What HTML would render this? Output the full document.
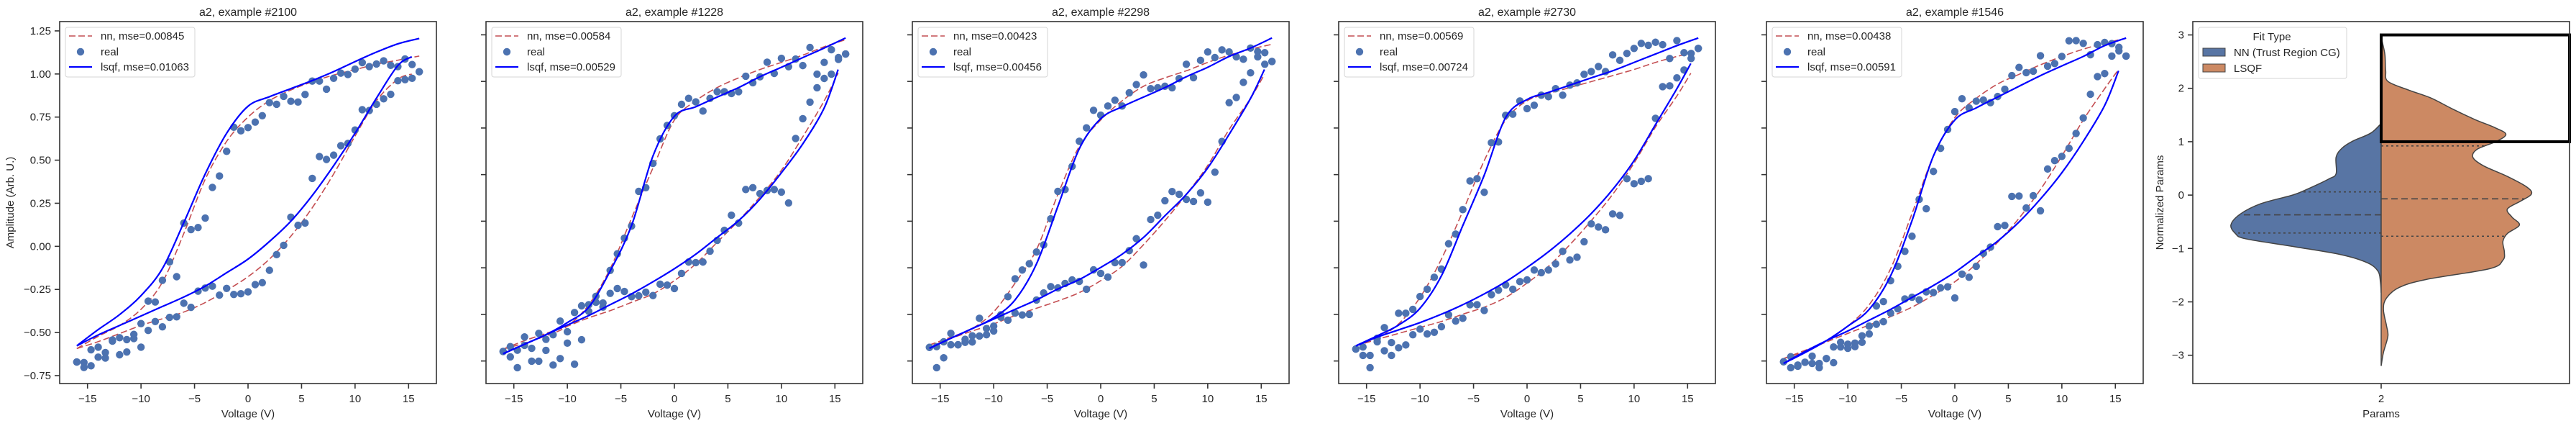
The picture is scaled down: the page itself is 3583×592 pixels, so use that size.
<!DOCTYPE html>
<html><head><meta charset="utf-8">
<style>
html,body{margin:0;padding:0;background:#fff;}
svg{display:block;font-family:"Liberation Sans",Arial,sans-serif;}
</style></head>
<body>
<svg id="fig" xmlns="http://www.w3.org/2000/svg" width="3583" height="592" viewBox="0 0 3583 592"></svg>
<script>
// ---------- data ----------
const voltGrid = [-16,-15.33,-14.67,-14,-13.33,-12.67,-12,-11.33,-10.67,-10,-9.33,-8.67,-8,-7.33,-6.67,-6,-5.33,-4.67,-4,-3.33,-2.67,-2,-1.33,-0.67,0,0.67,1.33,2,2.67,3.33,4,4.67,5.33,6,6.67,7.33,8,8.67,9.33,10,10.67,11.33,12,12.67,13.33,14,14.67,15.33,16];
const lineVUpper = [-16,-14,-12,-10,-8,-6,-4,-2,0,2,4,6,8,10,12,14,16];
const lineVLower = [-16,-14,-12,-10,-8,-6,-4,-2,0,2,4,6,8,10,12,14,15.3];
const xTicks = [-15,-10,-5,0,5,10,15];
const titles = ["a2, example #2100","a2, example #1228","a2, example #2298","a2, example #2730","a2, example #1546"];
const nnMse = ["0.00845","0.00584","0.00423","0.00569","0.00438"];
const lsqfMse = ["0.01063","0.00529","0.00456","0.00724","0.00591"];
const p1YTicks = [-0.75,-0.5,-0.25,0,0.25,0.5,0.75,1.0,1.25];
const p1YLabels = ["−0.75","−0.50","−0.25","0.00","0.25","0.50","0.75","1.00","1.25"];
const otherYTicks = [-0.5,-0.25,0,0.25,0.5,0.75,1.0,1.25];

const p1Upper = [-0.671,-0.674,-0.600,-0.585,-0.616,-0.543,-0.530,-0.541,-0.511,-0.448,-0.318,-0.323,-0.197,-0.090,-0.176,0.135,0.097,0.109,0.164,0.342,0.408,0.551,0.691,0.670,0.689,0.721,0.758,0.834,0.824,0.870,0.842,0.837,0.881,0.959,0.959,0.912,0.975,1.005,0.997,1.028,1.066,1.043,1.058,1.076,1.050,1.043,1.087,1.055,1.013];
const p1Lower = [-0.671,-0.703,-0.693,-0.643,-0.648,-0.550,-0.629,-0.613,-0.535,-0.585,-0.488,-0.436,-0.467,-0.412,-0.409,-0.330,-0.354,-0.260,-0.242,-0.231,-0.283,-0.244,-0.279,-0.275,-0.264,-0.222,-0.211,-0.139,-0.048,0.006,0.169,0.122,0.135,0.394,0.521,0.504,0.529,0.584,0.597,0.675,0.793,0.788,0.824,0.856,0.882,0.961,0.967,0.975,1.013];
const p1LsqfUp = [-0.577,-0.483,-0.396,-0.286,-0.129,0.138,0.420,0.656,0.813,0.868,0.915,0.962,1.014,1.072,1.127,1.175,1.206];
const p1LsqfLo = [-0.577,-0.514,-0.459,-0.404,-0.349,-0.294,-0.231,-0.153,-0.074,0.028,0.146,0.295,0.468,0.656,0.860,1.049,1.10];
const p1NnUp = [-0.593,-0.522,-0.459,-0.365,-0.208,0.075,0.389,0.609,0.750,0.845,0.907,0.955,0.994,1.025,1.057,1.080,1.104];
const p1NnLo = [-0.593,-0.553,-0.506,-0.459,-0.420,-0.381,-0.326,-0.255,-0.176,-0.074,0.059,0.224,0.420,0.640,0.845,0.970,1.00];

const p2Upper = [-0.449,-0.423,-0.442,-0.371,-0.432,-0.352,-0.384,-0.359,-0.286,-0.343,-0.240,-0.204,-0.198,-0.153,-0.189,-0.014,0.075,0.159,0.224,0.410,0.430,0.560,0.692,0.764,0.816,0.877,0.909,0.890,0.841,0.909,0.945,0.945,0.935,0.945,1.028,0.993,1.025,1.103,1.043,1.124,1.079,1.120,1.085,1.182,1.039,1.102,1.170,1.128,1.147];
const p2Lower = [-0.449,-0.478,-0.536,-0.416,-0.501,-0.501,-0.443,-0.522,-0.487,-0.404,-0.517,-0.386,-0.234,-0.185,-0.211,-0.137,-0.111,-0.127,-0.155,-0.150,-0.131,-0.149,-0.088,-0.093,-0.111,-0.030,0.031,0.028,0.031,0.089,0.147,0.201,0.282,0.240,0.420,0.430,0.398,0.415,0.420,0.406,0.348,0.694,0.800,0.889,0.966,1.016,1.039,1.118,1.147];
const p2LsqfUp = [-0.461,-0.410,-0.359,-0.294,-0.211,-0.017,0.227,0.600,0.813,0.864,0.916,0.967,1.025,1.076,1.128,1.179,1.233];
const p2LsqfLo = [-0.461,-0.410,-0.359,-0.307,-0.256,-0.198,-0.140,-0.075,-0.005,0.073,0.163,0.253,0.369,0.510,0.665,0.858,1.064];
const p2NnUp = [-0.436,-0.404,-0.365,-0.313,-0.198,-0.005,0.266,0.536,0.793,0.896,0.967,1.019,1.064,1.102,1.141,1.186,1.224];
const p2NnLo = [-0.436,-0.391,-0.352,-0.313,-0.268,-0.230,-0.185,-0.140,-0.069,0.021,0.137,0.253,0.381,0.523,0.703,0.896,1.044];

const p3Upper = [-0.427,-0.423,-0.397,-0.352,-0.413,-0.384,-0.365,-0.271,-0.326,-0.313,-0.252,-0.155,-0.059,-0.012,0.022,0.085,0.123,0.263,0.410,0.420,0.544,0.679,0.751,0.845,0.819,0.868,0.899,0.868,0.939,0.983,1.035,0.961,0.966,0.974,0.966,1.015,1.092,1.020,1.113,1.158,1.128,1.169,1.158,1.132,1.119,1.179,1.160,1.154,1.107];
const p3Lower = [-0.427,-0.536,-0.483,-0.413,-0.413,-0.400,-0.398,-0.366,-0.359,-0.339,-0.265,-0.281,-0.243,-0.253,-0.250,-0.173,-0.135,-0.101,-0.108,-0.084,-0.065,-0.073,-0.115,-0.011,-0.030,-0.050,0.028,0.028,0.092,0.156,0.015,0.259,0.282,0.360,0.409,0.394,0.367,0.356,0.402,0.352,0.513,0.678,0.886,0.914,0.995,1.046,1.132,1.092,1.107];
const p3LsqfUp = [-0.432,-0.378,-0.326,-0.268,-0.172,0.021,0.330,0.639,0.800,0.864,0.916,0.967,1.025,1.076,1.134,1.179,1.233];
const p3LsqfLo = [-0.432,-0.378,-0.326,-0.275,-0.223,-0.172,-0.114,-0.063,0.002,0.073,0.163,0.279,0.394,0.536,0.716,0.909,1.064];
const p3NnUp = [-0.414,-0.372,-0.326,-0.236,-0.082,0.098,0.394,0.652,0.793,0.896,0.974,1.019,1.057,1.102,1.141,1.173,1.199];
const p3NnLo = [-0.414,-0.378,-0.339,-0.301,-0.256,-0.217,-0.178,-0.133,-0.069,0.008,0.124,0.253,0.394,0.549,0.742,0.909,1.038];

const p4Upper = [-0.436,-0.425,-0.470,-0.378,-0.321,-0.401,-0.244,-0.244,-0.223,-0.154,-0.115,-0.051,-0.007,0.129,0.181,0.312,0.466,0.478,0.405,0.671,0.675,0.818,0.824,0.895,0.854,0.872,0.926,0.918,0.961,0.926,0.980,0.992,1.038,1.053,1.080,1.053,1.142,1.113,1.150,1.177,1.204,1.194,1.210,1.197,1.123,1.219,1.154,1.150,1.177];
const p4Lower = [-0.436,-0.470,-0.536,-0.397,-0.445,-0.470,-0.429,-0.414,-0.359,-0.329,-0.355,-0.346,-0.316,-0.252,-0.286,-0.271,-0.198,-0.198,-0.229,-0.144,-0.120,-0.092,-0.115,-0.074,-0.065,-0.012,-0.026,-0.012,0.021,0.088,0.042,0.057,0.140,0.236,0.219,0.204,0.289,0.281,0.478,0.451,0.464,0.478,0.802,0.972,0.976,1.019,1.061,1.123,1.177];
const p4LsqfUp = [-0.419,-0.365,-0.307,-0.217,-0.043,0.227,0.497,0.806,0.903,0.941,0.980,1.019,1.057,1.102,1.147,1.192,1.233];
const p4LsqfLo = [-0.419,-0.372,-0.333,-0.294,-0.249,-0.198,-0.140,-0.075,0.002,0.086,0.182,0.291,0.420,0.575,0.768,0.961,1.096];
const p4NnUp = [-0.419,-0.378,-0.301,-0.159,0.047,0.304,0.575,0.793,0.896,0.935,0.967,0.999,1.031,1.064,1.102,1.134,1.160];
const p4NnLo = [-0.419,-0.384,-0.352,-0.320,-0.288,-0.249,-0.211,-0.159,-0.082,0.008,0.124,0.253,0.394,0.562,0.755,0.922,1.044];

const p5Upper = [-0.504,-0.477,-0.522,-0.507,-0.474,-0.513,-0.487,-0.425,-0.400,-0.410,-0.404,-0.365,-0.313,-0.205,-0.181,-0.069,0.008,0.088,0.169,0.367,0.317,0.517,0.641,0.742,0.838,0.907,0.858,0.894,0.900,0.886,0.919,0.958,1.031,1.075,1.047,1.055,1.138,1.082,1.096,1.134,1.218,1.219,1.204,1.143,1.197,1.209,1.203,1.183,1.136];
const p5Lower = [-0.504,-0.536,-0.528,-0.507,-0.513,-0.536,-0.487,-0.509,-0.425,-0.432,-0.423,-0.400,-0.355,-0.303,-0.289,-0.243,-0.220,-0.167,-0.158,-0.172,-0.129,-0.133,-0.108,-0.102,-0.162,-0.034,-0.051,0.008,0.078,0.111,0.221,0.227,0.383,0.385,0.321,0.387,0.306,0.530,0.575,0.598,0.641,0.721,0.804,0.931,1.026,1.042,1.136,1.164,1.136];
const p5LsqfUp = [-0.513,-0.455,-0.391,-0.313,-0.223,-0.043,0.253,0.600,0.793,0.858,0.916,0.974,1.031,1.083,1.134,1.192,1.233];
const p5LsqfLo = [-0.513,-0.449,-0.391,-0.339,-0.281,-0.223,-0.159,-0.095,-0.024,0.060,0.143,0.246,0.369,0.510,0.678,0.871,1.057];
const p5NnUp = [-0.487,-0.449,-0.391,-0.313,-0.198,-0.005,0.291,0.600,0.806,0.909,0.986,1.038,1.089,1.134,1.173,1.205,1.231];
const p5NnLo = [-0.487,-0.443,-0.398,-0.352,-0.307,-0.262,-0.211,-0.146,-0.075,0.021,0.137,0.266,0.420,0.600,0.793,0.961,1.064];

// violin data
const nnViolinY = [1.34,1.16,1.01,0.88,0.71,0.40,0.30,0.10,0.0,-0.16,-0.36,-0.56,-0.72,-0.82,-0.97,-1.12,-1.27,-1.43,-1.63,-1.83];
const nnViolinDensity = [0,0.07,0.19,0.26,0.30,0.30,0.35,0.50,0.59,0.80,0.94,1.0,0.97,0.90,0.57,0.26,0.09,0.02,0.005,0];
const lsqfViolinY = [3.0,2.89,2.63,2.33,2.13,1.97,1.82,1.62,1.42,1.26,1.14,1.01,0.86,0.71,0.55,0.35,0.15,0.02,-0.11,-0.26,-0.41,-0.56,-0.72,-0.87,-1.07,-1.22,-1.38,-1.58,-1.73,-1.93,-2.14,-2.44,-2.64,-2.95,-3.2];
const lsqfViolinDensity = [0,0.006,0.025,0.03,0.045,0.18,0.33,0.47,0.62,0.76,0.83,0.77,0.64,0.61,0.68,0.84,0.97,1.0,0.93,0.84,0.87,0.92,0.84,0.81,0.82,0.81,0.72,0.30,0.12,0.035,0.015,0.035,0.045,0.015,0];
const nnQuartiles = [0.06,-0.37,-0.71];
const lsqfQuartiles = [0.92,-0.07,-0.77];
const violinYTicks = [-3,-2,-1,0,1,2,3];
const highlightBox = [1,3];

// ---------- drawing ----------
const NS = 'http://www.w3.org/2000/svg';
const svg = document.getElementById('fig');
function mk(tag, attrs, parent){
  const e = document.createElementNS(NS, tag);
  for (const k in attrs) e.setAttribute(k, attrs[k]);
  (parent||svg).appendChild(e);
  return e;
}
function txt(s, attrs, parent){ const t = mk('text', attrs, parent); t.textContent = s; return t; }
function smooth(pts){
  let d = 'M' + pts[0][0].toFixed(2) + ',' + pts[0][1].toFixed(2);
  for (let i=0;i<pts.length-1;i++){
    const p0 = pts[i-1]||pts[i], p1 = pts[i], p2 = pts[i+1], p3 = pts[i+2]||pts[i+1];
    const c1x = p1[0]+(p2[0]-p0[0])/6, c1y = p1[1]+(p2[1]-p0[1])/6;
    const c2x = p2[0]-(p3[0]-p1[0])/6, c2y = p2[1]-(p3[1]-p1[1])/6;
    d += ' C'+c1x.toFixed(2)+','+c1y.toFixed(2)+' '+c2x.toFixed(2)+','+c2y.toFixed(2)+' '+p2[0].toFixed(2)+','+p2[1].toFixed(2);
  }
  return d;
}
const TOP = 30, BOT = 533, W = 524;
const FRAME = '#333333', TXT = '#262626';
const panels = [
  {left:83, ylim:[-0.796,1.304], up:p1Upper, lo:p1Lower, lu:p1LsqfUp, ll:p1LsqfLo, nu:p1NnUp, nl:p1NnLo},
  {left:676, ylim:[-0.621,1.321], up:p2Upper, lo:p2Lower, lu:p2LsqfUp, ll:p2LsqfLo, nu:p2NnUp, nl:p2NnLo},
  {left:1269, ylim:[-0.621,1.321], up:p3Upper, lo:p3Lower, lu:p3LsqfUp, ll:p3LsqfLo, nu:p3NnUp, nl:p3NnLo},
  {left:1862, ylim:[-0.621,1.321], up:p4Upper, lo:p4Lower, lu:p4LsqfUp, ll:p4LsqfLo, nu:p4NnUp, nl:p4NnLo},
  {left:2457, ylim:[-0.621,1.321], up:p5Upper, lo:p5Lower, lu:p5LsqfUp, ll:p5LsqfLo, nu:p5NnUp, nl:p5NnLo}
];
const defs = mk('defs',{});
panels.forEach((P, pi) => {
  const L = P.left;
  const xs = v => L + (v + 17.6) / 35.2 * W;
  const ys = a => TOP + (P.ylim[1] - a) / (P.ylim[1] - P.ylim[0]) * (BOT - TOP);
  const cp = mk('clipPath',{id:'clip'+pi}, defs);
  mk('rect',{x:L,y:TOP,width:W,height:BOT-TOP}, cp);
  const g = mk('g',{});
  
  
  const plot = mk('g',{'clip-path':'url(#clip'+pi+')'}, g);
  // nn dashed
  [[lineVUpper,P.nu],[lineVLower,P.nl]].forEach(([vx,vy],bi)=>{
    const p = mk('path',{d:smooth(vx.map((v,i)=>[xs(v),ys(vy[i])])),fill:'none',stroke:'#c44e52','stroke-width':1.6,'stroke-dasharray':'9,4'}, plot);
    
    
  });
  // real scatter
  [P.up, P.lo].forEach(arr => {
    arr.forEach((a,i) => {
      const c = mk('circle',{cx:xs(voltGrid[i]).toFixed(2),cy:ys(a).toFixed(2),r:5.2,fill:'#4c72b0'}, plot);
      
      
    });
  });
  // lsqf
  [[lineVUpper,P.lu],[lineVLower,P.ll]].forEach(([vx,vy],bi)=>{
    const p = mk('path',{d:smooth(vx.map((v,i)=>[xs(v),ys(vy[i])])),fill:'none',stroke:'#0000ff','stroke-width':2.2}, plot);
    
    
  });
  // frame
  const fr = mk('rect',{x:L,y:TOP,width:W,height:BOT-TOP,fill:'none',stroke:FRAME,'stroke-width':1.6}, g);
  
  
  // x ticks
  xTicks.forEach(t => {
    const x = xs(t);
    const tk = mk('line',{x1:x,x2:x,y1:BOT,y2:BOT+7,stroke:FRAME,'stroke-width':1.6}, g);
    
    
    const lb = txt(t<0?'−'+Math.abs(t):String(t),{x:x,y:559,'text-anchor':'middle','font-size':15,fill:TXT}, g);
    
    
  });
  const xl = txt('Voltage (V)',{x:L+W/2,y:580,'text-anchor':'middle','font-size':15,fill:TXT}, g);
  
  
  // y ticks
  const yt = pi===0 ? p1YTicks : otherYTicks;
  yt.forEach((t,i) => {
    const y = ys(t);
    const tk = mk('line',{x1:L-7,x2:L,y1:y,y2:y,stroke:FRAME,'stroke-width':1.6}, g);
    
    
    if (pi===0){
      const lb = txt(p1YLabels[i],{x:L-12,y:y+5,'text-anchor':'end','font-size':15,fill:TXT}, g);
      
      
    }
  });
  if (pi===0){
    const yl = txt('Amplitude (Arb. U.)',{x:0,y:0,transform:'translate(19,'+((TOP+BOT)/2)+') rotate(-90)','text-anchor':'middle','font-size':15,fill:TXT}, g);
    
    
  }
  const ti = txt(titles[pi],{x:L+W/2,y:22,'text-anchor':'middle','font-size':16,fill:TXT}, g);
  
  
  // legend
  const lg = mk('g',{}, g);
  
  
  const lx = L+8, ly = TOP+8;
  mk('rect',{x:lx,y:ly,width:180,height:69,rx:3,fill:'#fff','fill-opacity':0.85,stroke:'#d6d6d6','stroke-width':1}, lg);
  const e1 = mk('line',{x1:lx+5,x2:lx+37,y1:ly+12,y2:ly+12,stroke:'#c44e52','stroke-width':1.6,'stroke-dasharray':'9,4'}, lg);
  
  
  const t1 = txt('nn, mse='+nnMse[pi],{x:lx+49,y:ly+17,'font-size':15,fill:TXT}, lg);
  
  
  const e2 = mk('circle',{cx:lx+21,cy:ly+34,r:5.2,fill:'#4c72b0'}, lg);
  
  
  const t2 = txt('real',{x:lx+49,y:ly+39,'font-size':15,fill:TXT}, lg);
  
  
  const e3 = mk('line',{x1:lx+5,x2:lx+37,y1:ly+55,y2:ly+55,stroke:'#0000ff','stroke-width':2.2}, lg);
  
  
  const t3 = txt('lsqf, mse='+lsqfMse[pi],{x:lx+49,y:ly+60,'font-size':15,fill:TXT}, lg);
  
  
});

// ---------- violin panel ----------
(function(){
  const L = 3050, cx = 3312, halfMax = 209;
  const ylim = [-3.53, 3.25];
  const ys = v => TOP + (ylim[1]-v)/(ylim[1]-ylim[0])*(BOT-TOP);
  const g = mk('g',{});
  
  
  const cp = mk('clipPath',{id:'clipv'}, defs);
  mk('rect',{x:L,y:TOP,width:W,height:BOT-TOP}, cp);
  const plot = mk('g',{'clip-path':'url(#clipv)'}, g);
  function halfPath(Y, D, sign){
    const pts = Y.map((v,i)=>[cx + sign*D[i]*halfMax, ys(v)]);
    return smooth(pts) + ' L'+cx+','+ys(Y[Y.length-1]).toFixed(2)+' L'+cx+','+ys(Y[0]).toFixed(2)+' Z';
  }
  function widthAt(Y, D, q){
    for (let i=0;i<Y.length-1;i++){
      if ((Y[i]>=q && Y[i+1]<=q)){
        const t = (Y[i]-q)/(Y[i]-Y[i+1]);
        return D[i]+(D[i+1]-D[i])*t;
      }
    }
    return 0;
  }
  const nnV = mk('path',{d:halfPath(nnViolinY,nnViolinDensity,-1),fill:'#5875a4',stroke:'#444','stroke-width':1.5}, plot);
  
  
  const lsV = mk('path',{d:halfPath(lsqfViolinY,lsqfViolinDensity,1),fill:'#cc8963',stroke:'#444','stroke-width':1.5}, plot);
  
  
  [[nnQuartiles,nnViolinY,nnViolinDensity,-1],[lsqfQuartiles,lsqfViolinY,lsqfViolinDensity,1]].forEach(([Q,Y,D,s])=>{
    Q.forEach((q,i)=>{
      const w = widthAt(Y,D,q)*halfMax;
      const y = ys(q);
      const ln = mk('line',{x1:cx,x2:cx+s*w,y1:y,y2:y,stroke:'#444','stroke-width':1.6,'stroke-dasharray':i===1?'9,5':'3,4'}, plot);
      
      
    });
  });
  const bx = mk('rect',{x:cx,y:ys(highlightBox[1]),width:L+W-cx,height:ys(highlightBox[0])-ys(highlightBox[1]),fill:'none',stroke:'#000','stroke-width':4}, g);
  
  
  const fr = mk('rect',{x:L,y:TOP,width:W,height:BOT-TOP,fill:'none',stroke:FRAME,'stroke-width':1.6}, g);
  
  
  violinYTicks.forEach(t=>{
    const y = ys(t);
    const tk = mk('line',{x1:L-7,x2:L,y1:y,y2:y,stroke:FRAME,'stroke-width':1.6}, g);
    
    
    const lb = txt(t<0?'−'+Math.abs(t):String(t),{x:L-12,y:y+5,'text-anchor':'end','font-size':15,fill:TXT}, g);
    
    
  });
  const xt = mk('line',{x1:cx,x2:cx,y1:BOT,y2:BOT+7,stroke:FRAME,'stroke-width':1.6}, g);
  
  
  const xtl = txt('2',{x:cx,y:559,'text-anchor':'middle','font-size':15,fill:TXT}, g);
  
  
  const xl = txt('Params',{x:cx,y:580,'text-anchor':'middle','font-size':15,fill:TXT}, g);
  
  
  const yl = txt('Normalized Params',{x:0,y:0,transform:'translate(3009,'+((TOP+BOT)/2)+') rotate(-90)','text-anchor':'middle','font-size':15,fill:TXT}, g);
  
  
  // legend
  const lg = mk('g',{}, g);
  
  
  mk('rect',{x:3058,y:38,width:206,height:71,rx:3,fill:'#fff','fill-opacity':0.85,stroke:'#d6d6d6','stroke-width':1}, lg);
  const lt = txt('Fit Type',{x:3160,y:56,'text-anchor':'middle','font-size':15,fill:TXT}, lg);
  
  
  const h1 = mk('rect',{x:3064,y:67,width:31,height:11,fill:'#5875a4',stroke:'#444','stroke-width':1}, lg);
  
  
  const l1 = txt('NN (Trust Region CG)',{x:3107,y:78,'font-size':15,fill:TXT}, lg);
  
  
  const h2 = mk('rect',{x:3064,y:89,width:31,height:11,fill:'#cc8963',stroke:'#444','stroke-width':1}, lg);
  
  
  const l2 = txt('LSQF',{x:3107,y:100,'font-size':15,fill:TXT}, lg);
  
  
})();
</script>
</body></html>
